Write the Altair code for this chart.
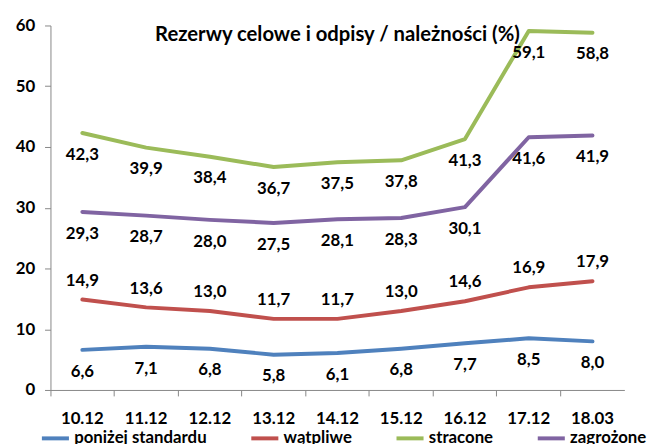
import altair as alt
import pandas as pd

categories = ["10.12", "11.12", "12.12", "13.12", "14.12", "15.12", "16.12", "17.12", "18.03"]
series_names = ["poniżej standardu", "wątpliwe", "stracone", "zagrożone"]
ponizej = [6.6, 7.1, 6.8, 5.8, 6.1, 6.8, 7.7, 8.5, 8.0]
watpliwe = [14.9, 13.6, 13.0, 11.7, 11.7, 13.0, 14.6, 16.9, 17.9]
stracone = [42.3, 39.9, 38.4, 36.7, 37.5, 37.8, 41.3, 59.1, 58.8]
zagrozone = [29.3, 28.7, 28.0, 27.5, 28.1, 28.3, 30.1, 41.6, 41.9]
colors = ["#4F81BD", "#C0504D", "#9BBB59", "#8064A2"]
y_ticks = [0, 10, 20, 30, 40, 50, 60]
title_text = "Rezerwy celowe i odpisy / należności (%)"

rows = []
for name, vals in zip(series_names, [ponizej, watpliwe, stracone, zagrozone]):
    for c, v in zip(categories, vals):
        rows.append({"okres": c, "seria": name, "wartosc": v,
                     "etykieta": f"{v:.1f}".replace(".", ",")})
df = pd.DataFrame(rows)

FONT = "Lato"

x = alt.X("okres:N", sort=categories, title=None, bandPosition=0.5,
          scale=alt.Scale(type="band", paddingInner=0, paddingOuter=0),
          axis=alt.Axis(labelAngle=0, bandPosition=0, tickSize=6, labelPadding=15,
                        labelFont=FONT, labelFontSize=17, labelFontWeight="bold",
                        labelColor="black", domainColor="#868686", tickColor="#868686"))
y = alt.Y("wartosc:Q", title=None,
          scale=alt.Scale(domain=[0, 60], nice=False),
          axis=alt.Axis(values=y_ticks, grid=False, tickSize=6, labelPadding=10,
                        labelFont=FONT, labelFontSize=17, labelFontWeight="bold",
                        labelColor="black", domainColor="#868686", tickColor="#868686"))
color = alt.Color("seria:N", sort=series_names,
                  scale=alt.Scale(domain=series_names, range=colors),
                  legend=alt.Legend(title=None, orient="none", direction="horizontal",
                                    legendX=-11, legendY=402, padding=0,
                                    symbolType="stroke", symbolStrokeWidth=4,
                                    symbolSize=750, columnPadding=36, labelOffset=3,
                                    labelFont=FONT, labelFontSize=17,
                                    labelFontWeight="bold", labelColor="black",
                                    labelLimit=300))

base = alt.Chart(df)

lines = base.mark_line(strokeWidth=4, strokeCap="round", strokeJoin="round").encode(
    x=x, y=y, color=color, detail="seria:N")

text_style = dict(font=FONT, fontSize=17, fontWeight="bold", color="black",
                  baseline="middle", align="center")

labels_above = base.transform_filter(alt.datum.seria == "wątpliwe").mark_text(
    dy=-19, **text_style).encode(x=x, y=y, text="etykieta:N")
labels_below = base.transform_filter(alt.datum.seria != "wątpliwe").mark_text(
    dy=22, **text_style).encode(x=x, y=y, text="etykieta:N")

chart = alt.layer(lines, labels_above, labels_below).properties(
    width=581, height=369,
    title=alt.TitleParams(text=title_text, font=FONT, fontSize=20.5, fontWeight="bold",
                          color="black", anchor="middle", frame="group", dy=33),
    autosize=alt.AutoSizeParams(type="none"),
    padding={"left": 43, "top": 15, "right": 31, "bottom": 52},
).configure_view(stroke=None)

chart.save("out.html", embed_options={"renderer": "svg", "actions": False})
